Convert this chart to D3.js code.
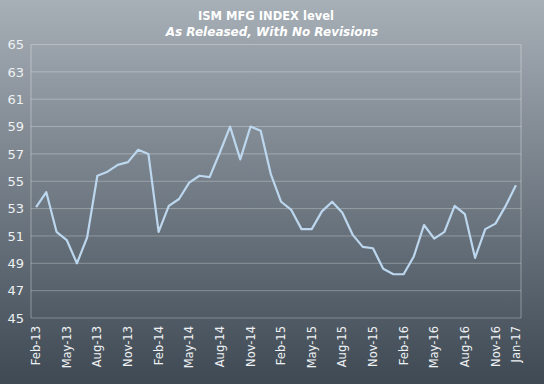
<!DOCTYPE html>
<html>
<head>
<meta charset="utf-8">
<script src="https://cdn.jsdelivr.net/npm/d3@7"></script>
<style>
  body { margin: 0; }
  svg { display: block; }
</style>
</head>
<body>
<script>
// release month labels, Feb-13 .. Jan-17
const months = ["Feb","Mar","Apr","May","Jun","Jul","Aug","Sep","Oct","Nov","Dec","Jan"];
const categories = [];
for (let i = 0; i < 48; i++) {
    const m = months[i % 12];
    const yr = 13 + Math.floor((i + 1) / 12);
    categories.push(m + "-" + yr);
}
const values = [53.1, 54.2, 51.3, 50.7, 49.0, 50.9, 55.4, 55.7, 56.2, 56.4, 57.3, 57.0,
    51.3, 53.2, 53.7, 54.9, 55.4, 55.3, 57.1, 59.0, 56.6, 59.0, 58.7, 55.5,
    53.5, 52.9, 51.5, 51.5, 52.8, 53.5, 52.7, 51.1, 50.2, 50.1, 48.6, 48.2,
    48.2, 49.5, 51.8, 50.8, 51.3, 53.2, 52.6, 49.4, 51.5, 51.9, 53.2, 54.7];
const yTicks = [45, 47, 49, 51, 53, 55, 57, 59, 61, 63, 65];
const shownLabels = ["Feb-13","May-13","Aug-13","Nov-13","Feb-14","May-14","Aug-14","Nov-14",
    "Feb-15","May-15","Aug-15","Nov-15","Feb-16","May-16","Aug-16","Nov-16","Jan-17"];

const width = 544, height = 384;
const margin = {top: 44.5, right: 23, bottom: 66, left: 31};

const svg = d3.select("body").append("svg")
    .attr("width", width)
    .attr("height", height);

const grad = svg.append("defs").append("linearGradient")
    .attr("id", "bg")
    .attr("x1", 0).attr("y1", 0).attr("x2", 0).attr("y2", 1);
grad.append("stop").attr("offset", "0%").attr("stop-color", "#a7afb7");
grad.append("stop").attr("offset", "100%").attr("stop-color", "#3e4954");

svg.append("rect")
    .attr("width", width)
    .attr("height", height)
    .attr("fill", "url(#bg)");

const x = d3.scaleBand()
    .domain(categories)
    .range([margin.left, width - margin.right]);

const y = d3.scaleLinear()
    .domain([45, 65])
    .range([height - margin.bottom, margin.top]);

// gridlines
svg.append("g")
    .selectAll("line")
    .data(yTicks).enter()
    .append("line")
    .attr("x1", margin.left)
    .attr("x2", width - margin.right)
    .attr("y1", d => y(d))
    .attr("y2", d => y(d))
    .attr("stroke", "#ffffff")
    .attr("stroke-opacity", 0.28)
    .attr("stroke-width", 1);

// frame left + right
svg.append("line")
    .attr("x1", margin.left).attr("x2", margin.left)
    .attr("y1", margin.top).attr("y2", height - margin.bottom)
    .attr("stroke", "#ffffff").attr("stroke-opacity", 0.35);
svg.append("line")
    .attr("x1", width - margin.right).attr("x2", width - margin.right)
    .attr("y1", margin.top).attr("y2", height - margin.bottom)
    .attr("stroke", "#ffffff").attr("stroke-opacity", 0.35);

const yAxis = d3.axisLeft(y).tickValues(yTicks).tickSize(0).tickPadding(7);
svg.append("g")
    .attr("transform", "translate(" + margin.left + ",0)")
    .call(yAxis)
    .call(g => g.select(".domain").remove())
    .selectAll("text")
    .attr("fill", "#eef1f3")
    .attr("font-family", "DejaVu Sans, sans-serif")
    .attr("font-size", "13px");

const xAxis = d3.axisBottom(x).tickValues(shownLabels).tickSize(0).tickPadding(0);
svg.append("g")
    .attr("transform", "translate(0," + (height - margin.bottom) + ")")
    .call(xAxis)
    .call(g => g.select(".domain").remove())
    .selectAll("text")
    .attr("fill", "#eef1f3")
    .attr("font-family", "DejaVu Sans, sans-serif")
    .attr("font-size", "11.5px")
    .attr("text-anchor", "end")
    .attr("dy", "0.35em")
    .attr("transform", "translate(0,8) rotate(-90)")
    .attr("x", 0)
    .attr("y", 0);

const line = d3.line()
    .x((d, i) => x(categories[i]) + x.bandwidth() / 2)
    .y(d => y(d));

svg.append("path")
    .datum(values)
    .attr("d", line)
    .attr("fill", "none")
    .attr("stroke", "#bcd7ee")
    .attr("stroke-width", 2.2)
    .attr("stroke-linejoin", "round");

svg.append("text")
    .attr("x", 266)
    .attr("y", 20)
    .attr("text-anchor", "middle")
    .attr("font-family", "DejaVu Sans, sans-serif")
    .attr("font-weight", "bold")
    .attr("font-size", "11.5px")
    .attr("fill", "#ffffff")
    .text("ISM MFG INDEX level");

svg.append("text")
    .attr("x", 272)
    .attr("y", 36)
    .attr("text-anchor", "middle")
    .attr("font-family", "DejaVu Sans, sans-serif")
    .attr("font-weight", "bold")
    .attr("font-style", "italic")
    .attr("font-size", "12px")
    .attr("fill", "#ffffff")
    .text("As Released, With No Revisions");
</script>
</body>
</html>
